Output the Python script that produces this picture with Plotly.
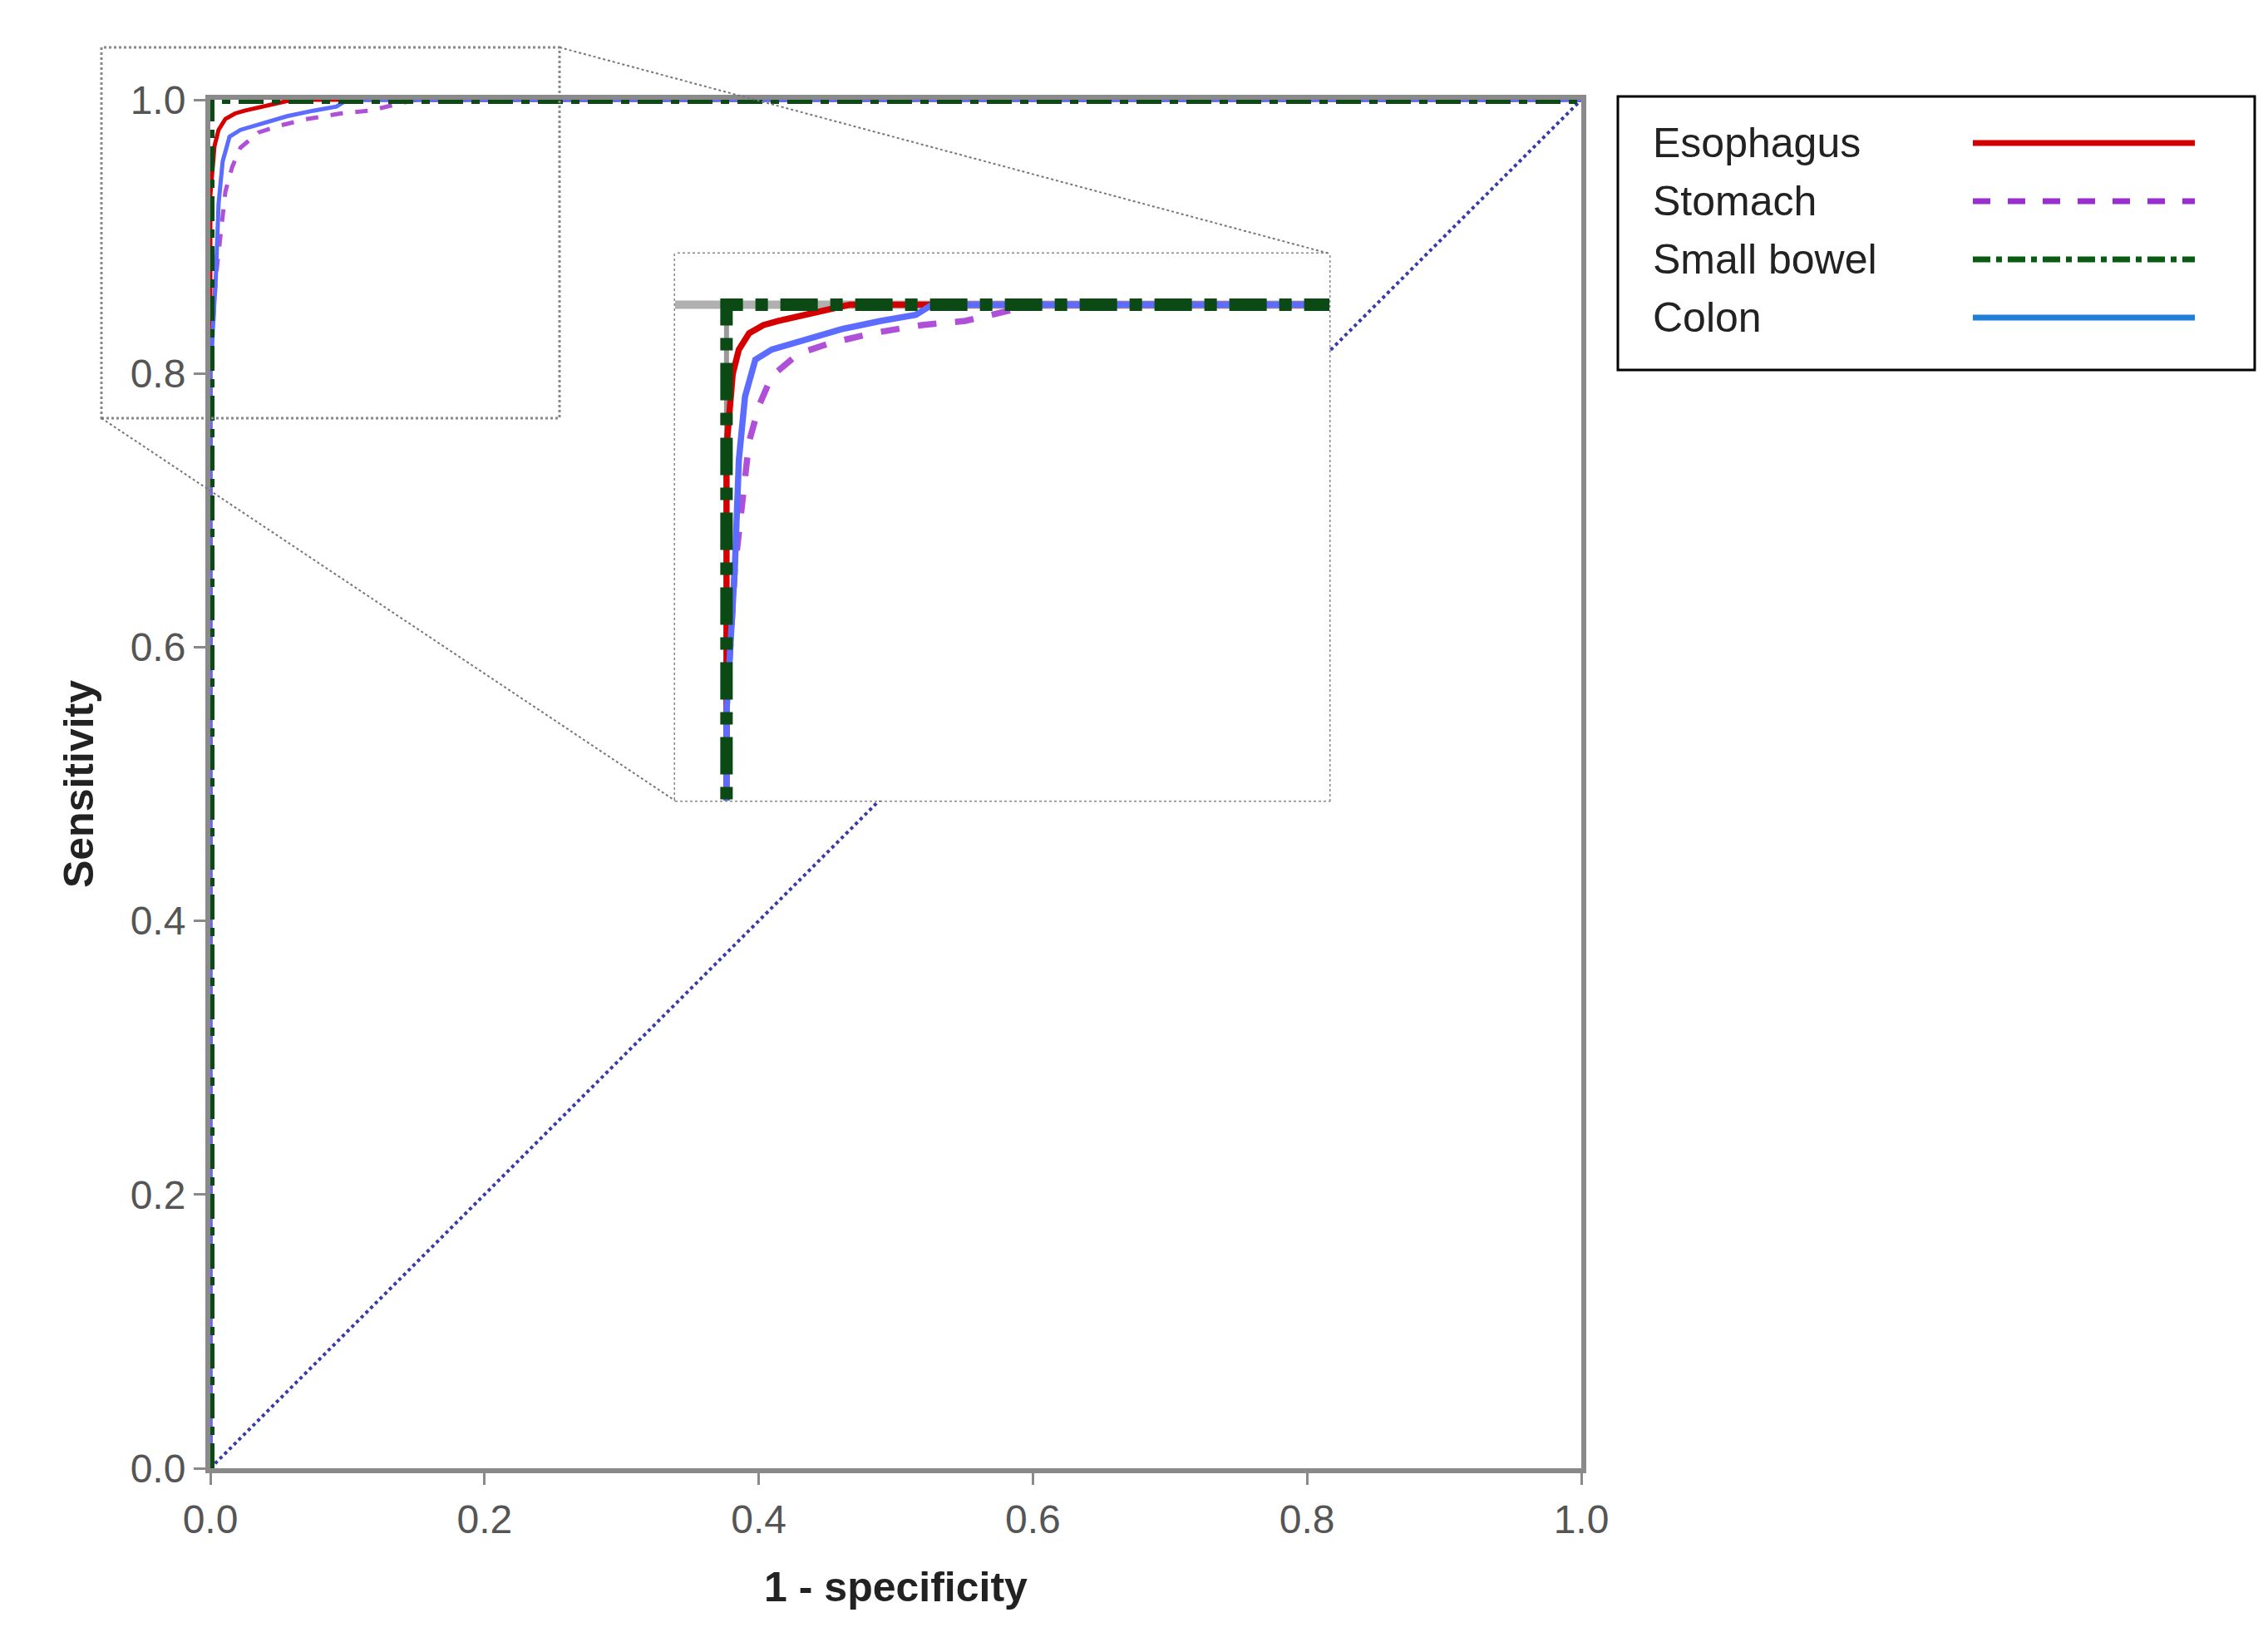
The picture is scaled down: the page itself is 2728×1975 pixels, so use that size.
import plotly.graph_objects as go

series_names = ["Esophagus", "Stomach", "Small bowel", "Colon"]
esophagus_fpr = [0.0, 0.0, 0.003, 0.006, 0.011, 0.018, 0.025, 0.033, 0.045, 0.06, 1.0]
esophagus_tpr = [0.0, 0.93, 0.966, 0.978, 0.986, 0.990, 0.992, 0.994, 0.997, 1.0, 1.0]
stomach_fpr = [0.0, 0.0, 0.004, 0.008, 0.011, 0.016, 0.022, 0.035, 0.05, 0.071, 0.095, 0.116, 0.15, 1.0]
stomach_tpr = [0.0, 0.80, 0.87, 0.91, 0.933, 0.951, 0.965, 0.976, 0.981, 0.986, 0.990, 0.992, 1.0, 1.0]
smallbowel_fpr = [0.0, 0.0, 1.0]
smallbowel_tpr = [0.0, 1.0, 1.0]
colon_fpr = [0.0, 0.0, 0.004, 0.006, 0.009, 0.014, 0.022, 0.035, 0.056, 0.075, 0.092, 0.10, 1.0]
colon_tpr = [0.0, 0.80, 0.87, 0.924, 0.955, 0.973, 0.978, 0.982, 0.988, 0.992, 0.995, 1.0, 1.0]
diag_x = [0.0, 1.0]
diag_y = [0.0, 1.0]
x_ticks = [0.0, 0.2, 0.4, 0.6, 0.8, 1.0]
y_ticks = [0.0, 0.2, 0.4, 0.6, 0.8, 1.0]

colors = ["#d40000", "#9a2fd0", "#0b5a14", "#1f7fd6"]
dashes = ["solid", "dash", "dashdot", "solid"]
curves = [(esophagus_fpr, esophagus_tpr), (stomach_fpr, stomach_tpr),
          (smallbowel_fpr, smallbowel_tpr), (colon_fpr, colon_tpr)]
widths = [5, 5, 10, 5]
plot_colors = ["#d40000", "#b050d8", "#0b4a14", "#5b6cff"]

W, H = 2728, 1975
L, R, T, B = 245, 834, 112, 217
pw, ph = W - L - R, H - T - B

def px(xp): return (xp - L) / pw
def py(yp): return (H - B - yp) / ph

fig = go.Figure()
fig.add_trace(go.Scatter(x=diag_x, y=diag_y, mode="lines",
                         line=dict(color="#3a3aa8", width=4, dash="dot"), showlegend=False))
order = [1, 0, 3, 2]
for i in order:
    fx, fy = curves[i]
    fig.add_trace(go.Scatter(x=fx, y=fy, mode="lines", name=series_names[i],
                             line=dict(color=plot_colors[i], width=widths[i], dash=dashes[i]),
                             showlegend=False))
for i in order:
    fx, fy = curves[i]
    fig.add_trace(go.Scatter(x=fx, y=fy, mode="lines", xaxis="x2", yaxis="y2",
                             line=dict(color=plot_colors[i], width=widths[i] * 1.5, dash=dashes[i]),
                             showlegend=False))

ix0, ix1, iy0, iy1 = 804, 1591, 297, 955
axis_gray = "#8a8a8a"
fig.update_layout(
    width=W, height=H, margin=dict(l=L, r=R, t=T, b=B),
    paper_bgcolor="white", plot_bgcolor="white",
    font=dict(family="Liberation Sans, Arial, sans-serif", color="#555555"),
    xaxis=dict(range=[0, 1], tickvals=x_ticks, ticktext=[f"{v:.1f}" for v in x_ticks],
               ticks="outside", ticklen=14, tickwidth=3, tickcolor=axis_gray,
               showline=True, linecolor=axis_gray, linewidth=6, mirror=True,
               showgrid=False, zeroline=False, tickfont=dict(size=48),
               title=dict(text="<b>1 - specificity</b>", font=dict(size=50, color="#222222"), standoff=40)),
    yaxis=dict(range=[0, 1], tickvals=y_ticks, ticktext=[f"{v:.1f}" for v in y_ticks],
               ticks="outside", ticklen=14, tickwidth=3, tickcolor=axis_gray,
               showline=True, linecolor=axis_gray, linewidth=6, mirror=True,
               showgrid=False, zeroline=False, tickfont=dict(size=48),
               title=dict(text="<b>Sensitivity</b>", font=dict(size=50, color="#222222"), standoff=30)),
    xaxis2=dict(domain=[px(ix0), px(ix1)], anchor="y2", range=[-0.025, 0.293],
                showticklabels=False, ticks="", showgrid=False, zeroline=False, showline=False),
    yaxis2=dict(domain=[py(iy1), py(iy0)], anchor="x2", range=[0.757, 1.025],
                showticklabels=False, ticks="", showgrid=False, zeroline=False, showline=False),
)

shapes = []
shapes.append(dict(type="line", xref="x2", yref="y2", x0=-0.025, x1=0.293, y0=1, y1=1,
                   line=dict(color="#b0b0b0", width=10), layer="below"))
shapes.append(dict(type="line", xref="x2", yref="y2", x0=0, x1=0, y0=0.757, y1=1.0,
                   line=dict(color="#9a9a9a", width=6), layer="below"))
shapes.append(dict(type="rect", xref="paper", yref="paper", x0=px(ix0), x1=px(ix1), y0=py(iy1), y1=py(iy0),
                   line=dict(color="#888888", width=3, dash="dot"), fillcolor="white", layer="below"))
sx0, sx1, sy0, sy1 = 114, 665, 49, 495
shapes.append(dict(type="rect", xref="paper", yref="paper", x0=px(sx0), x1=px(sx1), y0=py(sy1), y1=py(sy0),
                   line=dict(color="#888888", width=3, dash="dot")))
shapes.append(dict(type="line", xref="paper", yref="paper", x0=px(sx1), y0=py(sy0), x1=px(ix1), y1=py(iy0),
                   line=dict(color="#777777", width=2, dash="dot")))
shapes.append(dict(type="line", xref="paper", yref="paper", x0=px(sx0), y0=py(sy1), x1=px(ix0), y1=py(iy1),
                   line=dict(color="#777777", width=2, dash="dot")))
lx0, lx1, ly0, ly1 = 1938, 2704, 108, 437
shapes.append(dict(type="rect", xref="paper", yref="paper", x0=px(lx0), x1=px(lx1), y0=py(ly1), y1=py(ly0),
                   line=dict(color="black", width=3), fillcolor="white"))
annotations = []
rows = [164, 234, 304, 374]
for i, name in enumerate(series_names):
    yy = py(rows[i])
    annotations.append(dict(x=px(1978), y=yy, xref="paper", yref="paper", text=name, showarrow=False,
                            xanchor="left", yanchor="middle", font=dict(size=50, color="#222222")))
    shapes.append(dict(type="line", xref="paper", yref="paper", x0=px(2365), x1=px(2632), y0=yy, y1=yy,
                       line=dict(color=colors[i], width=7, dash=dashes[i])))
fig.update_layout(shapes=shapes, annotations=annotations)
fig.write_html("out.html")
